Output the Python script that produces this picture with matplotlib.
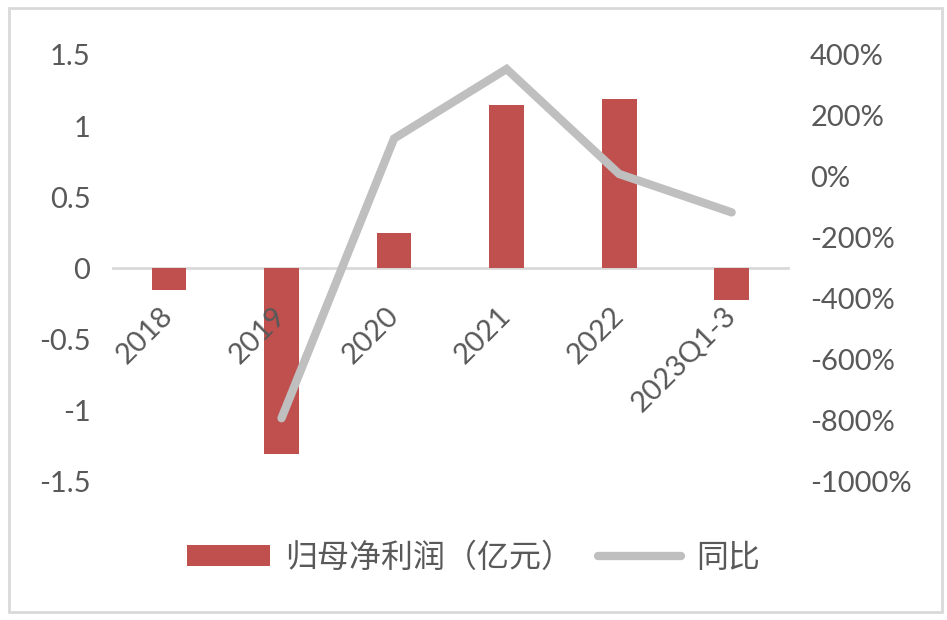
import numpy as np
import matplotlib
matplotlib.use("Agg")
import matplotlib.pyplot as plt
from matplotlib.patches import Rectangle
from matplotlib.transforms import ScaledTranslation

plt.rcParams['font.family'] = ['Lato', 'Noto Sans CJK SC', 'DejaVu Sans']

categories = ['2018', '2019', '2020', '2021', '2022', '2023Q1-3']
profit = [-0.15, -1.30, 0.25, 1.15, 1.19, -0.22]          # 归母净利润（亿元）
yoy = [np.nan, -791, 126, 354, 10, -116]                  # 同比 (%)
left_ticks = [1.5, 1, 0.5, 0, -0.5, -1, -1.5]
right_ticks = [400, 200, 0, -200, -400, -600, -800, -1000]

bar_color = '#C0504D'
line_color = '#BFBFBF'
text_color = '#595959'

fig = plt.figure(figsize=(9.47, 6.2), dpi=100)
ax = fig.add_axes([0.119, 0.2226, 0.713, 0.6887])
ax2 = ax.twinx()

for a in (ax, ax2):
    for s in a.spines.values():
        s.set_visible(False)
    a.patch.set_visible(False)

# zero line doubles as the category axis
ax.spines['bottom'].set_visible(True)
ax.spines['bottom'].set_position(('data', 0))
ax.spines['bottom'].set_color('#D9D9D9')
ax.spines['bottom'].set_linewidth(2)
ax.spines['bottom'].set_zorder(1)

x = np.arange(len(categories))
bars = ax.bar(x, profit, width=0.31, color=bar_color, zorder=2,
              label='归母净利润（亿元）')

line, = ax2.plot(x, yoy, color=line_color, lw=6, solid_capstyle='round',
                 solid_joinstyle='miter', label='同比', zorder=3)

ax.set_xlim(-0.5, len(categories) - 0.5)
ax.set_ylim(-1.5, 1.5)
ax2.set_ylim(-1000, 400)
ax.set_yticks(left_ticks)
ax.set_yticklabels([f'{t:g}' for t in left_ticks])
ax2.set_yticks(right_ticks)
ax2.set_yticklabels([f'{t}%' for t in right_ticks])

ax.set_xticks(x)
ax.set_xticklabels(categories, rotation=45, ha='right', rotation_mode='anchor')
ax.xaxis.set_zorder(4)

for a in (ax, ax2):
    a.tick_params(length=0, labelsize=21, colors=text_color)
ax.tick_params(axis='y', pad=16)
ax2.tick_params(axis='y', pad=16)
ax.tick_params(axis='x', pad=17)

# nudge rotated category labels down-left
shift = ScaledTranslation(-0.09, -0.10, fig.dpi_scale_trans)
for lab in ax.get_xticklabels():
    lab.set_transform(lab.get_transform() + shift)

ax2.set_zorder(ax.get_zorder() + 1)

leg = fig.legend(handles=[bars, line], loc='center', bbox_to_anchor=(0.5, 0.1),
                 ncol=2, frameon=False, fontsize=23, handlelength=2.6,
                 handleheight=0.62, columnspacing=0.8, handletextpad=0.45,
                 labelcolor=text_color)
for t in leg.get_texts():
    t.set_fontfamily(['Noto Sans CJK SC', 'DejaVu Sans'])

fig.patches.append(Rectangle((9 / 947, 1 - 612 / 620), 933 / 947, 604 / 620,
                             transform=fig.transFigure, fill=False,
                             edgecolor='#D9D9D9', lw=2))

fig.savefig('out.png', dpi=100)
